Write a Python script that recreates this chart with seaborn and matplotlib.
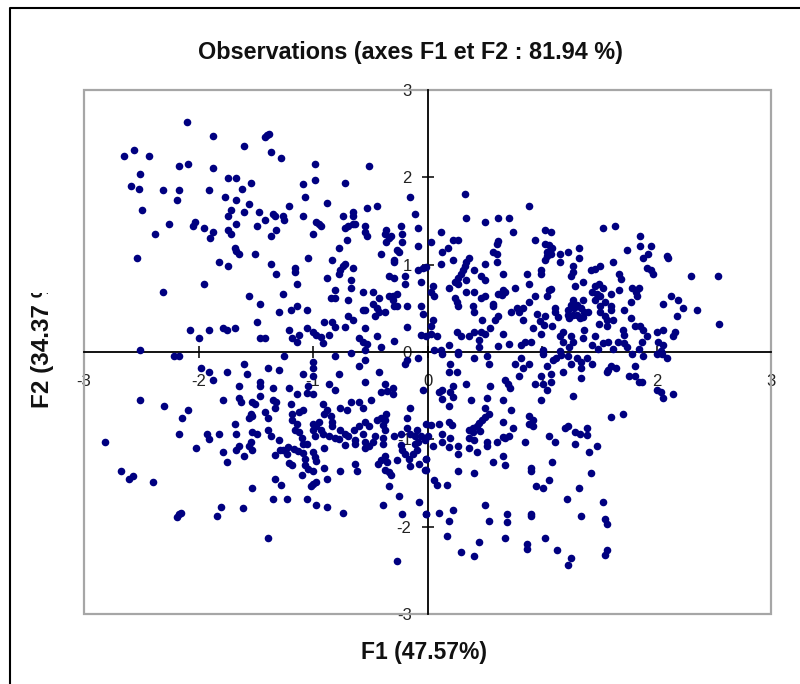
import matplotlib
matplotlib.use("Agg")
import matplotlib.pyplot as plt
from matplotlib.lines import Line2D
from matplotlib.patches import Rectangle
from matplotlib.transforms import Bbox
import pandas as pd
import seaborn as sns

TITLE = "Observations (axes F1 et F2 : 81.94 %)"
XLABEL = "F1 (47.57%)"
YLABEL = "F2 (34.37 %)"
TICKS = [-3, -2, -1, 0, 1, 2, 3]

upper_left = [(-2.10,2.63),(-1.87,2.47),(-1.60,2.36),(-1.42,2.46),(-1.40,2.48),(-1.38,2.50),(-1.37,2.29),(-1.28,2.22),
(-2.65,2.25),(-2.56,2.31),(-2.43,2.25),(-2.17,2.13),(-2.09,2.15),(-1.87,2.11),(-2.51,2.04),(-2.59,1.90),(-2.52,1.87),
(-2.31,1.85),(-2.17,1.85),(-2.19,1.74),(-2.49,1.63),(-1.91,1.85),(-1.74,1.99),(-1.67,1.99),(-1.54,1.94),(-1.62,1.87),
(-1.77,1.78),(-1.67,1.74),(-1.56,1.69),(-1.72,1.63),(-1.60,1.60),(-1.74,1.56),(-1.47,1.60),(-1.42,1.51),(-1.35,1.58),
(-1.33,1.56),(-1.26,1.56),(-1.25,1.51),(-1.21,1.67),(-1.09,1.92),(-1.07,1.78),(-0.98,1.97),(-0.98,2.15),(-0.72,1.94),
(-0.51,2.13),(-0.88,1.71),(-1.09,1.56),(-2.03,1.49),(-2.05,1.44),(-2.26,1.47),(-2.38,1.35),(-1.95,1.42),(-1.87,1.37),
(-1.90,1.31),(-1.74,1.40),(-1.72,1.35),(-1.67,1.47),(-1.49,1.44),(-1.32,1.40),(-1.37,1.33),(-1.68,1.19),(-1.67,1.16),
(-1.65,1.12),(-1.51,1.12),(-2.54,1.08),(-1.82,1.03),(-1.74,0.99),(-1.37,1.01),(-1.32,0.89),(-1.16,0.96),(-1.16,0.92),
(-1.14,0.78),(-1.95,0.78),(-2.31,0.69),(-1.56,0.64),(-1.26,0.66),(-1.46,0.55),(-1.30,0.46),(-1.19,0.48),(-1.14,0.53),
(-1.05,0.48),(-1.49,0.34),(-2.07,0.25),(-2.00,0.16),(-1.91,0.25),(-1.79,0.27),(-1.75,0.25),(-1.68,0.27),(-1.46,0.16),
(-1.42,0.16),(-1.21,0.25),(-1.18,0.16),(-1.12,0.19),(-1.14,0.11),(-1.05,0.27),(-1.00,0.23),(-0.97,0.20),(-0.93,0.17),
(-0.91,0.10),(-0.86,0.20),(-0.90,0.34),(-0.83,0.34),(-0.81,0.29),(-0.72,0.29),(-0.69,0.41),(-0.65,0.37),(-0.55,0.27),
(-0.60,0.16),(-0.56,0.11),(-0.53,0.09),(-0.55,0.02),(-0.44,0.18),(-0.41,0.06),(-0.29,0.13),(-0.18,0.29),(-0.06,0.20),
(-0.01,0.18),(-0.18,0.53),(-0.06,0.53),(-0.04,0.44),(-2.51,0.02),(-0.74,1.56),(-0.65,1.60),(-0.65,1.56),(-0.72,1.42),
(-0.69,1.44),(-0.65,1.47),(-0.63,1.47),(-0.53,1.65),(-0.44,1.67),(-0.55,1.44),(-0.55,1.37),(-0.53,1.33),(-0.70,1.28),
(-0.77,1.19),(-0.97,1.49),(-0.95,1.47),(-0.93,1.44),(-1.00,1.35),(-1.04,1.08),(-0.83,1.05),(-0.72,1.01),(-0.74,0.99),
(-0.76,0.94),(-0.77,0.89),(-0.65,0.96),(-0.88,0.85),(-0.67,0.82),(-0.67,0.73),(-0.81,0.71),(-0.84,0.62),(-0.81,0.62),
(-0.69,0.60),(-0.56,0.69),(-0.48,0.69),(-0.42,0.62),(-0.56,0.48),(-0.55,0.48),(-0.48,0.55),(-0.44,0.50),(-0.46,0.41),
(-0.42,0.46),(-0.37,0.46),(-0.34,0.64),(-0.30,0.64),(-0.27,0.66),(-0.30,0.60),(-0.29,0.53),(-0.27,0.53),(-0.41,1.12),
(-0.29,1.05),(-0.29,1.03),(-0.27,1.17),(-0.25,1.15),(-0.36,1.40),(-0.37,1.35),(-0.34,1.31),(-0.32,1.33),(-0.36,1.26),
(-0.23,1.44),(-0.22,1.35),(-0.22,1.26),(-0.15,1.78),(-0.11,1.58),(-0.08,1.42),(-0.08,1.21),(-0.08,0.94),(-0.04,0.96),
(-0.01,0.97),(-0.34,0.87),(-0.29,0.85),(-0.20,0.87),(-0.20,0.78),(-0.06,0.80)]

upper_right = [(0.33,1.81),(0.34,1.53),(0.50,1.49),(0.62,1.53),(0.71,1.53),(0.89,1.67),(0.75,1.37),(0.12,1.37),(0.03,1.26),
(0.22,1.28),(0.27,1.28),(0.18,1.19),(0.13,1.15),(0.22,1.05),(0.12,1.01),(0.36,1.08),(0.34,1.03),(0.33,0.99),(0.31,0.94),
(0.29,0.89),(0.27,0.85),(0.24,0.80),(0.27,0.78),(0.34,0.82),(0.41,0.94),(0.50,1.01),(0.47,0.87),(0.50,0.82),(0.57,1.15),
(0.61,1.24),(0.62,1.27),(0.61,1.12),(0.61,1.03),(0.66,0.89),(0.19,0.73),(0.05,0.76),(0.03,0.69),(0.06,0.64),(0.34,0.69),
(0.41,0.69),(0.47,0.62),(0.50,0.64),(0.24,0.62),(0.26,0.57),(0.27,0.53),(0.40,0.53),(0.41,0.46),(0.57,0.55),(0.57,0.53),
(0.62,0.66),(0.66,0.71),(0.68,0.69),(0.65,0.65),(0.76,0.73),(0.89,0.78),(0.87,0.89),(0.99,0.94),(0.99,0.89),(0.94,1.28),
(1.03,1.40),(1.08,1.37),(1.03,1.24),(1.06,1.22),(1.09,1.19),(1.04,1.15),(1.03,1.05),(1.04,1.10),(1.08,1.12),(1.16,1.12),
(1.23,1.15),(1.16,1.03),(1.32,1.19),(1.32,1.08),(1.27,0.99),(1.27,0.92),(1.25,0.87),(1.36,0.80),(1.29,0.76),(1.43,0.94),
(1.46,0.95),(1.51,0.99),(1.53,1.42),(1.64,1.44),(1.74,1.17),(1.62,1.03),(1.67,0.89),(1.69,0.84),(1.86,1.33),(1.86,1.21),
(1.95,1.21),(1.93,1.12),(1.88,1.08),(2.09,1.10),(2.10,1.08),(1.92,0.96),(1.95,0.94),(1.97,0.89),(2.30,0.87),(2.54,0.87),
(1.46,0.76),(1.50,0.78),(1.53,0.73),(1.44,0.69),(1.48,0.66),(1.51,0.64),(1.46,0.60),(1.55,0.57),(1.60,0.66),(1.67,0.71),
(1.79,0.73),(1.85,0.73),(1.82,0.69),(1.83,0.64),(1.78,0.57),(1.60,0.53),(1.60,0.48),(1.72,0.48),(2.13,0.64),(2.19,0.60),
(2.06,0.55),(2.23,0.50),(2.35,0.48),(2.18,0.41),(2.55,0.32),(1.27,0.60),(1.36,0.60),(1.23,0.48),(1.25,0.54),(1.28,0.50),
(1.31,0.54),(1.34,0.50),(1.37,0.46),(1.40,0.46),(1.23,0.42),(1.27,0.42),(1.31,0.42),(1.36,0.40),(1.24,0.39),(1.33,0.39),
(1.51,0.53),(1.51,0.46),(1.55,0.41),(1.57,0.37),(1.62,0.37),(1.50,0.32),(1.57,0.30),(1.78,0.39),(1.81,0.30),(1.86,0.30),
(1.88,0.25),(1.71,0.25),(1.72,0.19),(2.06,0.25),(2.00,0.23),(2.16,0.23),(2.14,0.18),(1.37,0.25),(1.36,0.16),(1.46,0.18),
(1.18,0.23),(1.16,0.18),(1.25,0.18),(1.27,0.11),(1.18,0.11),(1.24,0.06),(1.16,0.01),(1.01,0.02),(0.99,0.21),(0.92,0.27),
(1.09,0.30),(0.96,0.44),(1.03,0.41),(0.98,0.36),(1.02,0.31),(1.11,0.50),(1.11,0.46),(1.14,0.40),(0.94,0.64),(0.89,0.57),
(1.06,0.71),(1.04,0.64),(1.08,0.72),(0.73,0.46),(0.78,0.50),(0.83,0.50),(0.80,0.46),(0.83,0.37),(0.62,0.41),(0.59,0.37),
(0.48,0.37),(0.55,0.27),(0.66,0.21),(0.26,0.23),(0.29,0.18),(0.36,0.18),(0.41,0.23),(0.47,0.23),(0.50,0.21),(0.45,0.14),
(0.45,0.06),(0.62,0.07),(0.71,0.09),(0.82,0.08),(0.85,0.11),(0.90,0.11),(0.19,0.08),(0.05,0.37),(0.03,0.30),(0.03,0.21),
(0.08,0.18),(0.06,0.02),(0.12,0.02),(0.27,0.00),(1.44,0.08),(1.49,0.04),(1.53,0.10),(1.58,0.12),(1.62,0.04),(1.66,0.12),
(1.72,0.10),(1.74,0.06),(1.87,0.12),(1.92,0.18),(1.85,0.04),(2.01,0.12),(2.06,0.08),(2.04,0.01)]

lower_left = [(-2.21,-0.05),(-2.17,-0.05),(-1.25,-0.05),(-0.81,-0.05),(-0.67,-0.01),(-1.00,-0.11),(-1.00,-0.18),(-1.60,-0.14),
(-1.39,-0.18),(-1.30,-0.21),(-1.98,-0.18),(-1.91,-0.23),(-1.75,-0.23),(-1.58,-0.25),(-1.87,-0.32),(-1.46,-0.34),(-1.46,-0.39),
(-1.65,-0.39),(-1.35,-0.41),(-1.21,-0.41),(-1.09,-0.25),(-1.00,-0.28),(-1.04,-0.39),(-1.05,-0.47),(-1.00,-0.48),(-1.14,-0.48),
(-1.46,-0.50),(-1.65,-0.53),(-1.63,-0.57),(-1.79,-0.55),(-1.53,-0.57),(-1.51,-0.60),(-1.35,-0.55),(-1.32,-0.57),(-1.33,-0.64),
(-1.19,-0.60),(-2.51,-0.55),(-2.30,-0.62),(-2.09,-0.66),(-2.14,-0.76),(-1.42,-0.69),(-1.39,-0.76),(-1.54,-0.71),(-1.53,-0.73),
(-1.56,-0.76),(-1.68,-0.82),(-1.67,-0.94),(-1.82,-0.94),(-2.17,-0.94),(-1.93,-0.94),(-1.91,-1.00),(-2.82,-1.03),(-1.53,-0.92),
(-1.49,-0.94),(-1.39,-0.89),(-1.37,-0.96),(-1.54,-1.03),(-1.56,-1.08),(-1.53,-1.12),(-1.65,-1.08),(-1.67,-1.12),(-1.60,-1.19),
(-1.79,-1.15),(-1.75,-1.26),(-2.02,-1.10),(-1.30,-1.01),(-1.18,-0.71),(-1.12,-0.69),(-1.09,-0.66),(-1.18,-0.78),(-1.14,-0.82),
(-1.16,-0.89),(-1.12,-0.92),(-1.10,-0.99),(-1.09,-1.05),(-1.05,-1.05),(-1.29,-1.12),(-1.33,-1.18),(-1.26,-1.12),(-1.22,-1.09),
(-1.17,-1.11),(-1.13,-1.13),(-1.09,-1.16),(-1.23,-1.17),(-1.07,-1.22),(-1.21,-1.27),(-1.18,-1.29),(-1.07,-1.29),(-1.04,-1.34),
(-1.10,-1.41),(-1.00,-1.15),(-0.98,-1.20),(-0.97,-1.25),(-1.00,-1.36),(-0.90,-1.33),(-0.90,-1.10),(-0.76,-1.36),(-0.88,-1.45),
(-0.97,-1.49),(-1.00,-1.51),(-1.02,-1.53),(-1.33,-1.45),(-1.28,-1.52),(-1.53,-1.56),(-1.35,-1.68),(-1.23,-1.68),(-1.05,-1.68),
(-0.97,-1.75),(-0.88,-1.77),(-0.74,-1.84),(-1.80,-1.77),(-1.61,-1.79),(-1.84,-1.88),(-2.15,-1.84),(-2.17,-1.86),(-2.19,-1.89),
(-1.39,-2.13),(-2.68,-1.36),(-2.57,-1.42),(-2.61,-1.45),(-2.40,-1.49),(-0.27,-2.39),(-0.22,-1.86),(-0.39,-1.75),(-0.25,-1.65),
(-0.34,-1.54),(-0.07,-1.72),(-0.01,-1.86),(-0.91,-0.60),(-0.88,-0.66),(-0.90,-0.71),(-0.84,-0.73),(-0.83,-0.80),(-0.83,-0.85),
(-0.76,-0.64),(-0.70,-0.66),(-0.67,-0.57),(-0.60,-0.57),(-0.56,-0.64),(-0.49,-0.55),(-0.77,-0.25),(-0.86,-0.37),(-0.81,-0.44),
(-0.60,-0.16),(-0.55,-0.09),(-0.55,-0.34),(-0.42,-0.23),(-0.37,-0.37),(-0.41,-0.46),(-0.35,-0.45),(-0.30,-0.41),(-0.30,-0.48),
(-1.00,-0.82),(-0.95,-0.80),(-0.97,-0.85),(-1.00,-0.89),(-0.93,-0.89),(-0.98,-0.96),(-0.91,-0.94),(-0.86,-0.96),(-0.81,-0.99),
(-0.76,-0.89),(-0.72,-0.94),(-0.69,-0.96),(-0.77,-1.00),(-0.72,-1.06),(-0.64,-0.89),(-0.60,-0.85),(-0.55,-0.80),(-0.51,-0.85),
(-0.63,-1.01),(-0.63,-1.05),(-0.56,-0.94),(-0.55,-1.03),(-0.55,-1.10),(-0.51,-1.08),(-0.46,-0.96),(-0.48,-1.03),(-0.44,-0.78),
(-0.41,-0.76),(-0.36,-0.71),(-0.37,-0.78),(-0.39,-0.84),(-0.37,-0.89),(-0.39,-0.99),(-0.39,-1.05),(-0.29,-0.96),(-0.23,-0.94),
(-0.18,-0.87),(-0.18,-0.76),(-0.15,-0.64),(-0.23,-1.07),(-0.22,-1.12),(-0.20,-1.17),(-0.15,-0.94),(-0.11,-0.96),(-0.09,-0.89),
(-0.08,-1.03),(-0.11,-1.05),(-0.06,-0.96),(-0.02,-1.01),(-0.09,-1.12),(-0.13,-1.17),(-0.16,-1.22),(-0.15,-1.31),(-0.07,-1.28),
(-0.02,-1.35),(-0.01,-1.22),(-0.01,-0.82),(-0.27,-1.24),(-0.37,-1.19),(-0.41,-1.24),(-0.43,-1.28),(-0.35,-1.26),(-0.37,-1.35),
(-0.34,-1.37),(-0.32,-1.41),(-0.63,-1.28),(-0.62,-1.36),(-0.20,-0.14),(-0.18,-0.09),(-0.08,-0.07),(-0.04,-0.43)]

lower_right = [(0.13,-0.02),(0.27,-0.02),(0.41,-0.07),(0.52,-0.05),(0.54,-0.14),(0.20,-0.14),(0.19,-0.23),(0.26,-0.23),
(0.82,-0.07),(0.76,-0.14),(0.83,-0.18),(0.89,-0.14),(0.80,-0.27),(1.01,-0.02),(1.04,-0.16),(1.10,-0.09),(1.12,-0.07),(1.17,-0.03),
(1.23,-0.05),(1.18,-0.23),(1.25,-0.14),(1.31,-0.07),(1.39,-0.07),(1.34,-0.11),(1.34,-0.18),(1.44,-0.14),(1.34,-0.30),(1.08,-0.25),
(0.99,-0.27),(1.08,-0.34),(0.94,-0.37),(1.01,-0.37),(1.04,-0.44),(0.99,-0.55),(1.27,-0.50),(1.60,-0.16),(1.65,-0.18),(1.57,-0.23),
(1.58,-0.21),(1.81,-0.16),(1.76,-0.27),(1.81,-0.27),(1.85,-0.34),(1.87,-0.34),(1.79,-0.02),(1.88,-0.05),(2.00,-0.02),(2.05,-0.02),
(2.09,-0.07),(2.00,-0.44),(2.04,-0.46),(2.06,-0.53),(2.14,-0.48),(1.71,-0.71),(1.60,-0.74),(0.34,-0.37),(0.55,-0.39),(0.22,-0.39),
(0.20,-0.46),(0.22,-0.52),(0.13,-0.54),(0.10,-0.46),(0.13,-0.44),(0.19,-0.62),(0.38,-0.55),(0.52,-0.53),(0.66,-0.55),(0.68,-0.32),
(0.70,-0.37),(0.72,-0.41),(0.50,-0.64),(0.54,-0.71),(0.73,-0.66),(0.66,-0.80),(0.75,-0.87),(0.89,-0.73),(0.92,-0.78),(0.89,-0.82),
(0.92,-0.85),(0.50,-0.74),(0.48,-0.78),(0.45,-0.81),(0.43,-0.85),(0.40,-0.87),(0.36,-0.89),(0.46,-0.91),(0.40,-0.92),(0.36,-0.99),
(0.41,-1.01),(0.03,-0.84),(0.10,-0.82),(0.19,-0.80),(0.21,-0.84),(0.13,-0.94),(0.00,-0.96),(0.20,-0.99),(0.13,-1.03),(0.19,-1.09),
(0.05,-1.08),(0.27,-1.08),(0.36,-1.10),(0.43,-1.15),(0.27,-1.17),(0.52,-1.03),(0.52,-1.08),(0.61,-1.03),(0.66,-0.97),(0.71,-0.96),
(0.68,-0.99),(0.85,-1.03),(1.06,-0.96),(1.11,-1.03),(1.20,-0.87),(1.23,-0.85),(1.29,-0.92),(1.33,-0.94),(1.39,-0.87),(1.39,-0.95),
(1.29,-1.05),(1.48,-1.08),(1.41,-1.15),(1.43,-1.38),(1.09,-1.26),(0.90,-1.33),(0.90,-1.36),(0.66,-1.19),(0.68,-1.29),(0.57,-1.26),
(0.27,-1.36),(0.41,-1.38),(-0.01,-1.22),(-0.01,-1.35),(0.06,-1.47),(0.08,-1.52),(0.17,-1.52),(1.06,-1.47),(0.95,-1.54),(1.01,-1.56),
(1.32,-1.56),(1.22,-1.68),(1.53,-1.72),(0.50,-1.75),(0.22,-1.81),(0.10,-1.84),(-0.01,-1.86),(0.19,-1.93),(0.54,-1.93),(0.69,-1.86),
(0.69,-1.95),(0.90,-1.86),(0.90,-1.88),(1.34,-1.88),(1.55,-1.91),(1.57,-1.97),(0.17,-2.11),(0.45,-2.18),(0.68,-2.13),(0.29,-2.29),
(0.41,-2.34),(0.87,-2.20),(0.87,-2.25),(1.03,-2.13),(1.13,-2.27),(1.25,-2.36),(1.23,-2.44),(1.57,-2.27),(1.55,-2.33)]

df = pd.DataFrame(upper_left + upper_right + lower_left + lower_right, columns=["F1", "F2"])

sns.set_theme(style="white")
plt.rcParams["font.family"] = ["Liberation Sans", "DejaVu Sans"]

W, H = 800, 684
fig = plt.figure(figsize=(W / 100, H / 100), dpi=100, facecolor="white")
ax = fig.add_axes([84 / W, 1 - 614 / H, (771 - 84) / W, (614 - 90) / H])

sns.scatterplot(data=df, x="F1", y="F2", ax=ax, color="#000080", s=30, linewidth=0, marker="o", zorder=3, clip_on=False)

ax.set_xlim(-3, 3)
ax.set_ylim(-3, 3)
ax.set_xlabel("")
ax.set_ylabel("")
ax.set_xticks(TICKS)
ax.set_yticks(TICKS)
ax.set_xticklabels([str(t) for t in TICKS])
ax.set_yticklabels([str(t) for t in TICKS])

ax.add_patch(Rectangle((0, 0), 1, 1, transform=ax.transAxes, fill=False, edgecolor="#a6a6a6", linewidth=1.6, zorder=1, clip_on=False))
for side in ("top", "right"):
    ax.spines[side].set_visible(False)
for side in ("left", "bottom"):
    ax.spines[side].set_position("zero")
    ax.spines[side].set_color("black")
    ax.spines[side].set_linewidth(1.3)
    ax.spines[side].set_zorder(2)

ax.tick_params(axis="x", direction="inout", length=9, width=1.1, color="black", pad=11, labelsize=12, labelcolor="#222222", bottom=True)
ax.tick_params(axis="y", direction="inout", length=9, width=1.1, color="black", pad=7, labelsize=12, labelcolor="#222222", left=True)
for lab in ax.get_xticklabels() + ax.get_yticklabels():
    lab.set_zorder(4)

fig.text(410 / W, 1 - 52 / H, TITLE, ha="center", va="center", fontsize=16.8, fontweight="bold", color="#111111")
fig.text(424 / W, 1 - 652 / H, XLABEL, ha="center", va="center", fontsize=16.5, fontweight="bold", color="#111111")
yl = fig.text(42 / W, 1 - 408 / H, YLABEL, ha="center", va="bottom", rotation=90, fontsize=17.5, fontweight="bold", color="#111111")
yl.set_clip_box(Bbox([[0, H - 440], [100, H - 293]]))
yl.set_clip_on(True)

# outer chart frame: left and top edges only
fig.add_artist(Line2D([10 / W, 10 / W, 1], [0, 1 - 8 / H, 1 - 8 / H], transform=fig.transFigure, color="black", linewidth=1.5))

fig.savefig("out.png", dpi=100)
